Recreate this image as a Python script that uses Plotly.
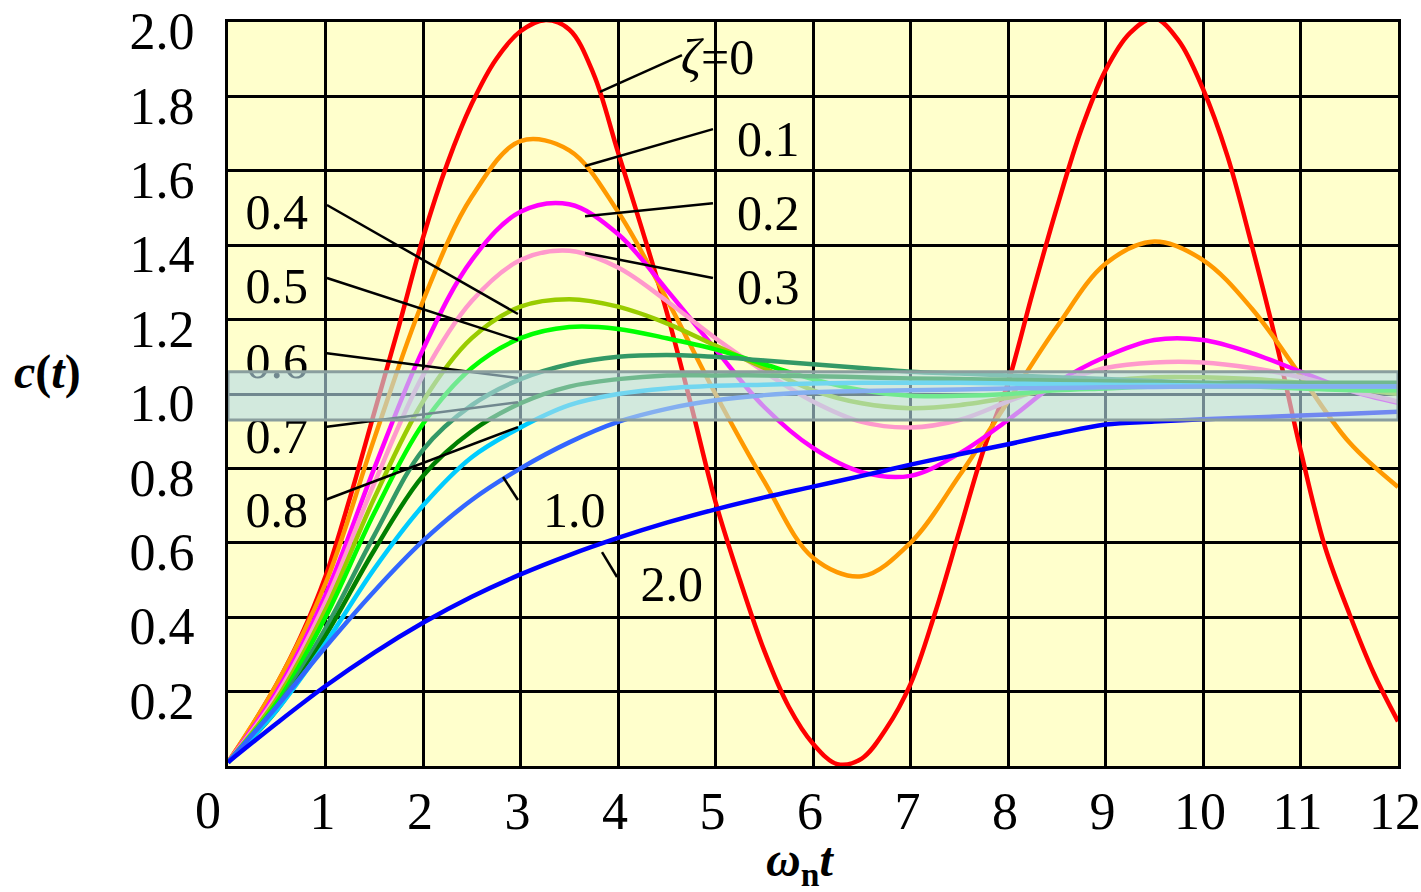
import plotly.graph_objects as go

# Step response c(t) of a second-order system for several damping ratios,
# sampled along the normalised time axis omega_n * t.
t_grid = [0, 0.5, 1, 1.5, 2, 2.5, 3, 3.5, 4, 4.5, 5, 5.5, 6,
          6.5, 7, 7.5, 8, 8.5, 9, 9.5, 10, 10.5, 11, 11.5, 12]

# the undamped curve swings fastest, so it is sampled more densely
t_fine = [0, 0.25, 0.5, 0.75, 1, 1.25, 1.5, 1.75, 2, 2.25, 2.5, 2.75, 3,
          3.25, 3.5, 3.75, 4, 4.25, 4.5, 4.75, 5, 5.25, 5.5, 5.75, 6,
          6.25, 6.5, 6.75, 7, 7.25, 7.5, 7.75, 8, 8.25, 8.5, 8.75, 9,
          9.25, 9.5, 9.75, 10, 10.25, 10.5, 10.75, 11, 11.25, 11.5, 11.75, 12]

c_zeta_0_0 = [0.01, 0.11, 0.22, 0.35, 0.51, 0.72, 0.95, 1.18, 1.42, 1.62, 1.78, 1.90, 1.975,
              2.005, 1.98, 1.86, 1.65, 1.44, 1.22, 0.97, 0.71, 0.50, 0.31, 0.16, 0.06,
              0.005, 0.02, 0.10, 0.22, 0.41, 0.63, 0.85, 1.03, 1.27, 1.50, 1.71, 1.87,
              1.97, 2.01, 1.95, 1.82, 1.64, 1.40, 1.14, 0.85, 0.59, 0.41, 0.25, 0.12]
c_zeta_0_1 = [0.01, 0.22, 0.49, 0.88, 1.25, 1.53, 1.68, 1.655, 1.49, 1.255, 1.0, 0.765, 0.56,
              0.51, 0.60, 0.78, 0.98, 1.18, 1.35, 1.41, 1.36, 1.23, 1.05, 0.87, 0.75]
c_zeta_0_2 = [0.01, 0.20, 0.46, 0.80, 1.12, 1.36, 1.49, 1.51, 1.43, 1.28, 1.12, 0.965, 0.855,
              0.79, 0.78, 0.84, 0.93, 1.03, 1.10, 1.145, 1.145, 1.11, 1.06, 1.01, 0.976]
c_zeta_0_3 = [0.01, 0.19, 0.44, 0.76, 1.05, 1.25, 1.36, 1.385, 1.34, 1.25, 1.15, 1.06, 0.98,
              0.925, 0.91, 0.93, 0.98, 1.03, 1.07, 1.085, 1.085, 1.07, 1.045, 1.01, 0.98]
c_zeta_0_4 = [0.01, 0.18, 0.42, 0.72, 0.98, 1.15, 1.235, 1.255, 1.235, 1.19, 1.13, 1.07, 1.01,
              0.975, 0.962, 0.97, 0.99, 1.015, 1.035, 1.045, 1.045, 1.04, 1.03, 1.015, 1.0]
c_zeta_0_5 = [0.01, 0.17, 0.40, 0.68, 0.92, 1.07, 1.15, 1.18, 1.175, 1.15, 1.12, 1.08, 1.04,
              1.01, 0.995, 0.995, 1.0, 1.01, 1.015, 1.02, 1.02, 1.02, 1.015, 1.01, 1.01]
c_zeta_0_6 = [0.01, 0.16, 0.37, 0.62, 0.85, 0.97, 1.04, 1.08, 1.10, 1.105, 1.10, 1.09, 1.08,
              1.07, 1.06, 1.055, 1.05, 1.045, 1.04, 1.035, 1.03, 1.03, 1.025, 1.02, 1.02]
c_zeta_0_7 = [0.01, 0.15, 0.35, 0.58, 0.78, 0.90, 0.975, 1.02, 1.04, 1.05, 1.05, 1.05, 1.048,
              1.045, 1.042, 1.04, 1.038, 1.036, 1.034, 1.032, 1.03, 1.03, 1.03, 1.03, 1.03]
c_zeta_0_8 = [0.01, 0.15, 0.33, 0.53, 0.70, 0.83, 0.91, 0.97, 1.0, 1.015, 1.022, 1.025, 1.028,
              1.03, 1.03, 1.03, 1.028, 1.026, 1.025, 1.024, 1.023, 1.022, 1.021, 1.02, 1.02]
c_zeta_1_0 = [0.01, 0.16, 0.32, 0.47, 0.605, 0.715, 0.80, 0.87, 0.925, 0.96, 0.983, 0.997, 1.005,
              1.008, 1.01, 1.012, 1.015, 1.016, 1.018, 1.019, 1.02, 1.02, 1.02, 1.02, 1.02]
c_zeta_2_0 = [0.01, 0.115, 0.215, 0.305, 0.385, 0.455, 0.515, 0.567, 0.613, 0.654, 0.69, 0.722, 0.751,
              0.78, 0.81, 0.838, 0.865, 0.893, 0.918, 0.926, 0.932, 0.937, 0.942, 0.947, 0.952]

zeta_values = ["0", "0.1", "0.2", "0.3", "0.4", "0.5", "0.6", "0.7", "0.8", "1.0", "2.0"]
responses = [c_zeta_0_0, c_zeta_0_1, c_zeta_0_2, c_zeta_0_3, c_zeta_0_4, c_zeta_0_5,
             c_zeta_0_6, c_zeta_0_7, c_zeta_0_8, c_zeta_1_0, c_zeta_2_0]
curve_colors = ["#ff0000", "#ff9900", "#ff00ff", "#ff99cc", "#99cc00", "#00ff00",
                "#339966", "#008000", "#00ccff", "#3366ff", "#0000ff"]

x_ticks = list(range(1, 13))
y_ticks = [0.2, 0.4, 0.6, 0.8, 1.0, 1.2, 1.4, 1.6, 1.8, 2.0]
y_tick_text = ["0.2", "0.4", "0.6", "0.8", "1.0", "1.2", "1.4", "1.6", "1.8", "2.0"]

# tolerance band around the final value
band_low, band_high = 0.93, 1.06

SERIF = "Liberation Serif, Times New Roman, serif"

fig = go.Figure()

for zeta, resp, col in zip(zeta_values, responses, curve_colors):
    xs = t_fine if len(resp) == len(t_fine) else t_grid
    fig.add_trace(go.Scatter(
        x=xs, y=resp, mode="lines", name=zeta,
        line=dict(color=col, width=4.5, shape="spline", smoothing=1.0),
        hoverinfo="skip",
    ))

# leader lines: (label, line start, line end, label centre) in data coordinates
leaders = [
    ("<i>ζ</i>=0", (3.815, 1.812), (4.656, 1.911), (5.02, 1.894)),
    ("0.1", (3.662, 1.613), (4.974, 1.712), (5.54, 1.674)),
    ("0.2", (3.662, 1.478), (4.974, 1.513), (5.54, 1.474)),
    ("0.3", (3.662, 1.379), (4.974, 1.312), (5.54, 1.276)),
    ("0.4", (2.974, 1.215), (1.015, 1.508), (0.50, 1.476)),
    ("0.5", (2.974, 1.145), (1.015, 1.312), (0.50, 1.277)),
    ("0.6", (2.974, 1.043), (0.995, 1.110), (0.50, 1.077)),
    ("0.7", (2.974, 0.978), (0.995, 0.911), (0.50, 0.876)),
    ("0.8", (2.974, 0.911), (0.995, 0.715), (0.50, 0.675)),
    ("1.0", (2.821, 0.777), (2.974, 0.715), (3.55, 0.675)),
    ("2.0", (3.836, 0.575), (3.990, 0.508), (4.55, 0.478)),
]

for _, p0, p1, _ in leaders:
    fig.add_trace(go.Scatter(
        x=[p0[0], p1[0]], y=[p0[1], p1[1]], mode="lines",
        line=dict(color="black", width=2.5), hoverinfo="skip",
    ))

fig.add_trace(go.Scatter(
    x=[lab[3][0] for lab in leaders], y=[lab[3][1] for lab in leaders],
    mode="text", text=[lab[0] for lab in leaders], textposition="middle center",
    textfont=dict(family=SERIF, size=50, color="black"),
    cliponaxis=False, hoverinfo="skip",
))

fig.add_shape(
    type="rect", xref="x", yref="y", x0=0, x1=12, y0=band_low, y1=band_high,
    fillcolor="rgba(183,219,230,0.62)", line=dict(color="#8a9e9e", width=3),
    layer="above",
)

fig.update_xaxes(
    range=[0, 12], tickvals=x_ticks, ticktext=[str(v) for v in x_ticks],
    showgrid=True, gridcolor="black", gridwidth=2.5, zeroline=False,
    showline=True, linecolor="black", linewidth=3, mirror=True, ticks="",
    tickfont=dict(family=SERIF, size=52, color="black"),
    ticklabelstandoff=-2, ticklabelshift=-3, automargin=False,
    ticklabeloverflow="allow",
)
fig.update_yaxes(
    range=[0, 2], tickvals=y_ticks, ticktext=y_tick_text,
    showgrid=True, gridcolor="black", gridwidth=2.5, zeroline=False,
    showline=True, linecolor="black", linewidth=3, mirror=True, ticks="",
    tickfont=dict(family=SERIF, size=52, color="black"),
    ticklabelstandoff=20, ticklabelshift=9, automargin=False,
    ticklabeloverflow="allow",
)

fig.add_annotation(
    x=0, y=0, xref="x", yref="y", text="0", showarrow=False,
    font=dict(family=SERIF, size=52, color="black"),
    xanchor="center", yanchor="top", xshift=-20, yshift=-14,
)
fig.add_annotation(
    x=-0.154, y=0.53, xref="paper", yref="paper",
    text="<b><i>c</i>(<i>t</i>)</b>", showarrow=False,
    font=dict(family=SERIF, size=48, color="black"),
    xanchor="center", yanchor="middle",
)
fig.add_annotation(
    x=0.489, y=-0.13, xref="paper", yref="paper",
    text="<b><i>ω</i><sub>n</sub><i>t</i></b>", showarrow=False,
    font=dict(family=SERIF, size=48, color="black"),
    xanchor="center", yanchor="middle",
)

fig.update_layout(
    width=1421, height=892,
    margin=dict(l=228, r=23, t=22, b=126),
    paper_bgcolor="white", plot_bgcolor="#ffffcc",
    showlegend=False,
)

fig.write_html("out.html")
